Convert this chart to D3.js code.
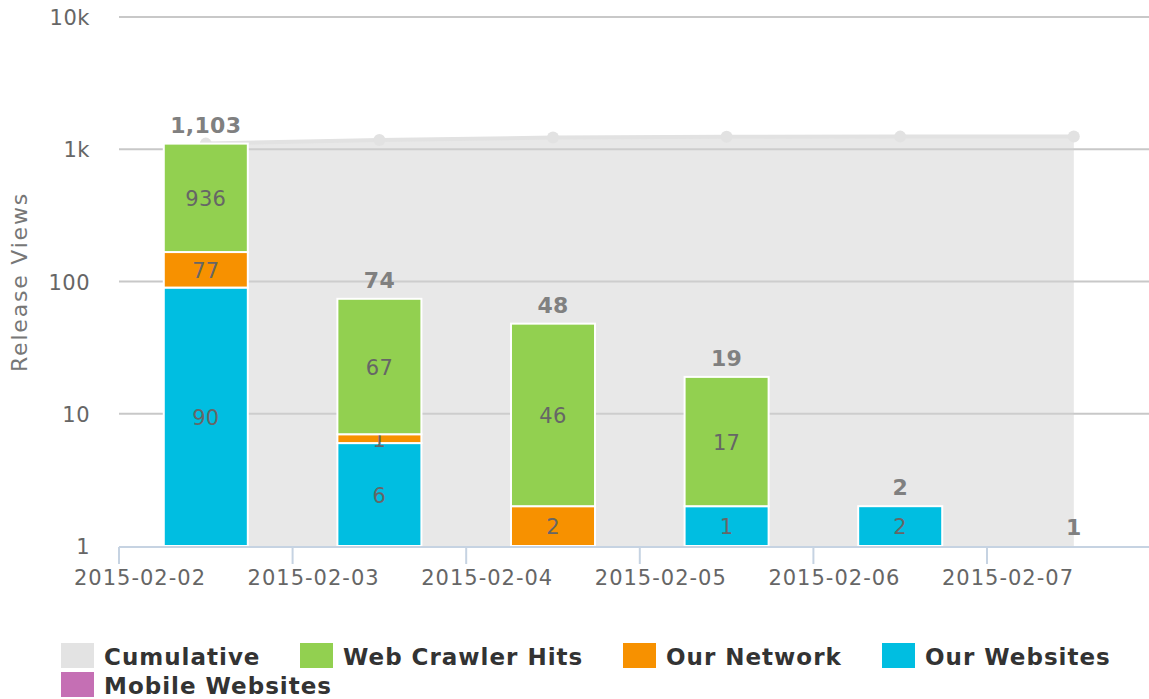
<!DOCTYPE html>
<html>
<head>
<meta charset="utf-8">
<script src="https://cdn.jsdelivr.net/npm/d3@7"></script>
<style>
  body { margin: 0; background: #fff; }
  svg { font-family: "DejaVu Sans", sans-serif; display: block; }
</style>
</head>
<body>
<div id="chart"></div>
<script>
var dates = ["2015-02-02", "2015-02-03", "2015-02-04", "2015-02-05", "2015-02-06", "2015-02-07"];
var cumulative = [1103, 1177, 1225, 1244, 1246, 1247];
var crawlerHits = [936, 67, 46, 17, 0, 0];
var ourNetwork = [77, 1, 2, 0, 0, 0];
var ourWebsites = [90, 6, 0, 1, 2, 0];
var mobileWebsites = [0, 0, 0, 1, 0, 1];
var yTicks = [1, 10, 100, 1000, 10000];
var yTickLabels = ["1", "10", "100", "1k", "10k"];

var width = 1149, height = 699;
var plot = {left: 119, right: 1149, top: 17, bottom: 546};

var svg = d3.select("#chart").append("svg")
    .attr("width", width)
    .attr("height", height);

var x = d3.scaleBand()
    .domain(dates)
    .range([plot.left, plot.left + 173.6 * dates.length])
    .paddingInner(0.516)
    .paddingOuter(0.258);
var step = x.step();
var cx = function(d) { return x(d) + x.bandwidth() / 2; };

var y = d3.scaleLog().domain([1, 10000]).range([plot.bottom, plot.top]);
var yc = function(v) { return v <= 1 ? plot.bottom : y(v); };

// grid
svg.append("g").selectAll("line")
    .data(yTicks.slice(1))
  .enter().append("line")
    .attr("x1", plot.left).attr("x2", plot.right)
    .attr("y1", function(d) { return y(d); })
    .attr("y2", function(d) { return y(d); })
    .style("stroke", "#c8c8c8")
    .style("stroke-width", 2);

// y labels
svg.append("g").selectAll("text")
    .data(yTicks)
  .enter().append("text")
    .attr("x", 90)
    .attr("y", function(d) { return y(d) + 8; })
    .attr("text-anchor", "end")
    .style("font-size", "21px")
    .style("letter-spacing", "0.5px")
    .style("fill", "#666")
    .text(function(d, i) { return yTickLabels[i]; });

svg.append("text")
    .attr("transform", "translate(27,282) rotate(-90)")
    .attr("text-anchor", "middle")
    .style("font-size", "22px")
    .style("letter-spacing", "1.8px")
    .style("fill", "#777")
    .text("Release Views");

// cumulative area
var cumData = dates.map(function(d, i) { return {date: d, value: cumulative[i]}; });
svg.append("path")
    .datum(cumData)
    .attr("d", d3.area()
      .x(function(d) { return cx(d.date); })
      .y0(plot.bottom)
      .y1(function(d) { return y(d.value); }))
    .style("fill", "#d2d2d2")
    .style("fill-opacity", 0.5);
svg.append("path")
    .datum(cumData)
    .attr("d", d3.line()
      .x(function(d) { return cx(d.date); })
      .y(function(d) { return y(d.value); }))
    .style("fill", "none")
    .style("stroke", "#e2e2e2")
    .style("stroke-width", 4);
svg.append("g").selectAll("circle")
    .data(cumData)
  .enter().append("circle")
    .attr("cx", function(d) { return cx(d.date); })
    .attr("cy", function(d) { return y(d.value); })
    .attr("r", 6)
    .style("fill", "#e2e2e2");

// stacked bars (bottom to top)
var series = [
  {name: "Mobile Websites", values: mobileWebsites, color: "#c56fb4"},
  {name: "Our Websites", values: ourWebsites, color: "#00bee1"},
  {name: "Our Network", values: ourNetwork, color: "#f79100"},
  {name: "Web Crawler Hits", values: crawlerHits, color: "#92d050"}
];
var table = dates.map(function(d, i) {
  var row = {date: d};
  series.forEach(function(s) { row[s.name] = s.values[i]; });
  return row;
});
var stacked = d3.stack().keys(series.map(function(s) { return s.name; }))(table);

var bars = svg.append("g");
stacked.forEach(function(layer, li) {
  var g = bars.append("g");
  var segs = layer.filter(function(d) { return d[1] - d[0] > 0 && d[1] > 1; });
  g.selectAll("rect")
      .data(segs)
    .enter().append("rect")
      .attr("x", function(d) { return x(d.data.date); })
      .attr("width", x.bandwidth())
      .attr("y", function(d) { return yc(d[1]); })
      .attr("height", function(d) { return yc(d[0]) - yc(d[1]); })
      .style("fill", series[li].color)
      .style("stroke", "#fff")
      .style("stroke-width", 2);
  g.selectAll("text")
      .data(segs)
    .enter().append("text")
      .attr("x", function(d) { return cx(d.data.date); })
      .attr("y", function(d) { return (yc(d[0]) + yc(d[1])) / 2 + 8; })
      .attr("text-anchor", "middle")
      .style("font-size", "21px")
      .style("letter-spacing", "0.3px")
      .style("fill", "#666")
      .text(function(d) { return d[1] - d[0]; });
});

// stack totals
var totals = dates.map(function(d, i) {
  return {date: d, value: crawlerHits[i] + ourNetwork[i] + ourWebsites[i] + mobileWebsites[i]};
});
svg.append("g").selectAll("text")
    .data(totals)
  .enter().append("text")
    .attr("x", function(d) { return cx(d.date); })
    .attr("y", function(d) { return yc(d.value) - 11; })
    .attr("text-anchor", "middle")
    .style("font-size", "22px")
    .style("font-weight", "bold")
    .style("letter-spacing", "0.3px")
    .style("fill", "#808080")
    .text(function(d) { return d3.format(",")(d.value); });

// x axis
var xAxis = svg.append("g")
    .attr("transform", "translate(0," + plot.bottom + ")")
    .call(d3.axisBottom(x).tickSize(18).tickSizeOuter(0));
xAxis.select(".domain").remove();
xAxis.append("line")
    .attr("x1", plot.left).attr("x2", plot.right)
    .attr("y1", 1).attr("y2", 1)
    .style("stroke", "#c6d3e2")
    .style("stroke-width", 2);
xAxis.selectAll(".tick line")
    .attr("x1", -step / 2).attr("x2", -step / 2)
    .attr("y1", 1)
    .style("stroke", "#c6d3e2")
    .style("stroke-width", 2);
xAxis.selectAll(".tick text")
    .attr("x", -step / 2 + 21)
    .attr("dy", null)
    .attr("y", 39)
    .style("font-size", "21px")
    .style("letter-spacing", "1px")
    .style("font-family", "DejaVu Sans, sans-serif")
    .style("fill", "#666");

// legend
var legend = [
  {name: "Cumulative", color: "#e3e3e3", x: 61, row: 0},
  {name: "Web Crawler Hits", color: "#92d050", x: 300, row: 0},
  {name: "Our Network", color: "#f79100", x: 623, row: 0},
  {name: "Our Websites", color: "#00bee1", x: 882, row: 0},
  {name: "Mobile Websites", color: "#c56fb4", x: 61, row: 1}
];
var lg = svg.append("g").selectAll("g")
    .data(legend)
  .enter().append("g")
    .attr("transform", function(d) { return "translate(" + d.x + "," + (643 + d.row * 29) + ")"; });
lg.append("rect")
    .attr("width", 33).attr("height", 25)
    .style("fill", function(d) { return d.color; });
lg.append("text")
    .attr("x", 43).attr("y", 22)
    .style("font-size", "23px")
    .style("font-weight", "bold")
    .style("letter-spacing", "1px")
    .style("fill", "#333")
    .text(function(d) { return d.name; });
</script>
</body>
</html>
